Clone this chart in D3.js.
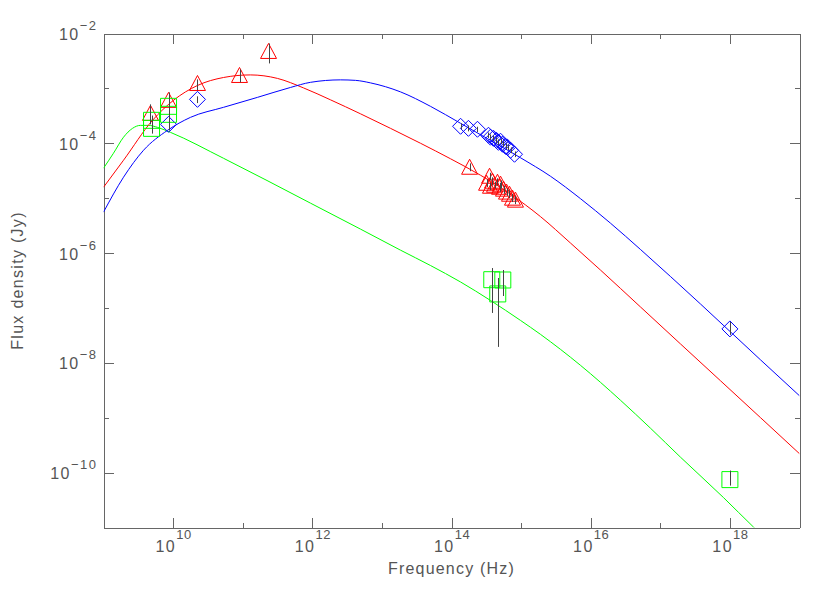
<!DOCTYPE html>
<html><head><meta charset="utf-8">
<script src="https://cdn.jsdelivr.net/npm/d3@7/dist/d3.min.js"></script>
<style>
body{margin:0;background:#fff}
svg{display:block}
text{font-family:"Liberation Sans",Arial,sans-serif;fill:#555}
</style>
</head><body>
<svg id="chart" width="830" height="593"></svg>
<script>
// ---- tick values ----
const xMajorTicks = [1e10, 1e12, 1e14, 1e16, 1e18];
const xMinorTicks = [1e11, 1e13, 1e15, 1e17];
const yMajorTicks = [1e-2, 1e-4, 1e-6, 1e-8, 1e-10];
const yMinorTicks = [1e-3, 1e-5, 1e-7, 1e-9];
const xTitle = "Frequency (Hz)";
const yTitle = "Flux density (Jy)";

// ---- model curves ----
const blueModelFreq = [1e9, 1.94e9, 3.76e9, 8.31e9, 1.78e10, 5.30e10, 1.63e11, 4.86e11, 9.43e11, 2.54e12, 4.18e12, 6.86e12, 1.85e13, 4.99e13, 1.35e14, 3.63e14, 9.80e14, 2.64e15, 7.13e15, 1.92e16, 5.20e16, 1.40e17, 3.78e17, 1.02e18, 2.76e18, 1e19];
const blueModelFlux = [5.56e-6, 2.41e-5, 7.46e-5, 1.72e-4, 2.97e-4, 4.52e-4, 6.86e-4, 1.04e-3, 1.29e-3, 1.43e-3, 1.40e-3, 1.26e-3, 8.64e-4, 4.71e-4, 2.31e-4, 1.13e-4, 5.45e-5, 2.51e-5, 9.8e-6, 3.51e-6, 1.16e-6, 3.74e-7, 1.18e-7, 3.66e-8, 1.13e-8, 2.51e-9];

const redModelFreq = [1e9, 1.94e9, 5.06e9, 1.01e10, 2.24e10, 5.30e10, 1.29e11, 3.16e11, 7.48e11, 1.83e12, 4.93e12, 1.33e13, 3.59e13, 9.68e13, 2.61e14, 7.05e14, 1.90e15, 5.13e15, 1.38e16, 5.20e16, 1.95e17, 7.33e17, 2.76e18, 1e19];
const redModelFlux = [1.58e-5, 4.91e-5, 2.62e-4, 6.05e-4, 1.13e-3, 1.58e-3, 1.76e-3, 1.52e-3, 1.02e-3, 6.18e-4, 3.44e-4, 1.87e-4, 1.0e-4, 5.22e-5, 2.62e-5, 1.18e-5, 4.61e-6, 1.52e-6, 4.91e-7, 1.04e-7, 2.21e-8, 4.71e-9, 1.0e-9, 2.21e-10];

const greenModelFreq = [1e9, 1.39e9, 1.94e9, 2.61e9, 3.40e9, 4.43e9, 5.97e9, 9.18e9, 5.30e10, 9.43e11, 4.93e12, 1.85e13, 4.99e13, 1.35e14, 3.63e14, 9.80e14, 1.90e15, 3.68e15, 7.13e15, 1.38e16, 2.68e16, 7.23e16, 1.95e17, 8.09e17, 2.18e18, 5.33e18];
const greenModelFlux = [3.51e-5, 6.58e-5, 1.29e-4, 1.87e-4, 2.12e-4, 2.12e-4, 1.95e-4, 1.58e-4, 5.33e-5, 8.11e-6, 2.73e-6, 1.13e-6, 5.93e-7, 2.97e-7, 1.37e-7, 5.93e-8, 3.30e-8, 1.76e-8, 9.01e-9, 4.42e-9, 2.08e-9, 6.44e-10, 1.91e-10, 3.51e-11, 1.02e-11, 3.51e-12];

// ---- observed points ----
const redFreq = [4.73e9, 8.6e9, 2.24e10, 9.0e10, 2.35e11, 1.82e14, 3.19e14, 3.52e14, 3.63e14, 3.88e14, 4.15e14, 4.58e14, 4.90e14, 5.06e14, 5.59e14, 6.17e14, 6.81e14, 7.52e14, 8.30e14];
const redFlux = [3.51e-4, 6.05e-4, 1.23e-3, 1.72e-3, 4.71e-3, 3.66e-5, 1.87e-5, 2.51e-5, 1.65e-5, 2.04e-5, 1.72e-5, 1.95e-5, 1.58e-5, 1.80e-5, 1.46e-5, 1.29e-5, 1.18e-5, 1.00e-5, 9.2e-6];
const redLo   = [2.21e-4, 3.98e-4, 9.2e-4, 1.29e-3, 2.85e-3, 3.1e-5, 1.6e-5, 2.1e-5, 1.4e-5, 1.7e-5, 1.5e-5, 1.7e-5, 1.3e-5, 1.5e-5, 1.2e-5, 1.1e-5, 1.0e-5, 8.5e-6, 7.8e-6];
const redHi   = [5.12e-4, 8.46e-4, 1.46e-3, 2.21e-3, 6.58e-3, 4.3e-5, 2.2e-5, 2.9e-5, 1.9e-5, 2.4e-5, 2.0e-5, 2.3e-5, 1.9e-5, 2.1e-5, 1.7e-5, 1.5e-5, 1.4e-5, 1.2e-5, 1.1e-5];

const blueFreq = [8.6e9, 2.24e10, 1.35e14, 1.75e14, 2.36e14, 3.40e14, 3.63e14, 4.01e14, 4.43e14, 4.73e14, 5.06e14, 5.41e14, 5.97e14, 6.38e14, 7.05e14, 8.04e14, 1.0e18];
const blueFlux = [2.21e-4, 6.31e-4, 2.04e-4, 1.87e-4, 1.80e-4, 1.40e-4, 1.29e-4, 1.23e-4, 1.13e-4, 1.04e-4, 1.09e-4, 9.6e-5, 8.8e-5, 8.45e-5, 7.46e-5, 6.31e-5, 4.15e-8];
const blueLo   = [1.7e-4, 5.4e-4, 1.8e-4, 1.65e-4, 1.6e-4, 1.25e-4, 1.15e-4, 1.1e-4, 1.0e-4, 9.3e-5, 9.7e-5, 8.6e-5, 7.8e-5, 7.5e-5, 6.6e-5, 5.6e-5, 3.23e-8];
const blueHi   = [2.9e-4, 7.16e-4, 2.3e-4, 2.1e-4, 2.0e-4, 1.57e-4, 1.45e-4, 1.38e-4, 1.27e-4, 1.17e-4, 1.22e-4, 1.08e-4, 9.9e-5, 9.5e-5, 8.4e-5, 7.1e-5, 5.56e-8];

const greenFreq = [4.9e9, 4.9e9, 8.6e9, 8.6e9, 3.79e14, 4.62e14, 5.46e14, 1.0e18];
const greenFlux = [2.62e-4, 1.87e-4, 4.71e-4, 3.37e-4, 3.27e-7, 1.80e-7, 3.23e-7, 7.46e-11];
const greenLo   = [2.1e-4, 1.5e-4, 3.9e-4, 2.8e-4, 8.11e-8, 1.95e-8, 1.65e-7, 5.8e-11];
const greenHi   = [3.2e-4, 2.3e-4, 5.6e-4, 4.0e-4, 5.33e-7, 3.51e-7, 4.91e-7, 1.09e-10];

// ---- drawing ----
const svg = d3.select("#chart");
const L = 103.5, R = 799.5, T = 33.5, B = 527.5;
const x = d3.scaleLog().domain([1e9, 1e19]).range([L, R]);
const y = d3.scaleLog().domain([1e-11, 1e-2]).range([B, T]);
const axisColor = "#666";

svg.append("defs").append("clipPath").attr("id", "plotclip")
  .append("rect").attr("x", L).attr("y", T).attr("width", R - L).attr("height", B - T);

function styleAxis(g) {
  g.selectAll("path.domain").attr("stroke", axisColor).attr("shape-rendering", "crispEdges");
  g.selectAll(".tick line").attr("stroke", axisColor).attr("shape-rendering", "crispEdges");
}

function addAxis(axisFn, scale, ticks, size, transform) {
  const a = axisFn(scale).tickValues(ticks).tickSizeInner(-size).tickSizeOuter(0).tickFormat("");
  const g = svg.append("g").attr("transform", transform).call(a);
  styleAxis(g);
  return g;
}
// major + minor ticks on all four sides
const gBottom = addAxis(d3.axisBottom, x, xMajorTicks, 10, `translate(0,${B})`);
addAxis(d3.axisBottom, x, xMinorTicks, 5, `translate(0,${B})`);
addAxis(d3.axisTop, x, xMajorTicks, 10, `translate(0,${T})`);
addAxis(d3.axisTop, x, xMinorTicks, 5, `translate(0,${T})`);
const gLeft = addAxis(d3.axisLeft, y, yMajorTicks, 10, `translate(${L},0)`);
addAxis(d3.axisLeft, y, yMinorTicks, 5, `translate(${L},0)`);
addAxis(d3.axisRight, y, yMajorTicks, 10, `translate(${R},0)`);
addAxis(d3.axisRight, y, yMinorTicks, 5, `translate(${R},0)`);

const expOf = v => Math.round(Math.log10(v));
const fmtExp = e => (e < 0 ? "\u2212" : "") + Math.abs(e);

// x tick labels
gBottom.selectAll(".tick").each(function(d) {
  const t = d3.select(this).append("text")
    .attr("x", 0).attr("y", 24.5).attr("text-anchor", "middle").attr("fill", "#555");
  t.append("tspan").attr("font-size", 16).attr("letter-spacing", 1.5).text("10");
  t.append("tspan").attr("font-size", 13).attr("letter-spacing", 0.5).attr("dy", -13).text(fmtExp(expOf(d)));
});
// y tick labels
gLeft.selectAll(".tick").each(function(d) {
  const t = d3.select(this).append("text")
    .attr("x", -6).attr("y", 6).attr("text-anchor", "end").attr("fill", "#555");
  t.append("tspan").attr("font-size", 16).attr("letter-spacing", 1.5).text("10");
  t.append("tspan").attr("font-size", 13).attr("letter-spacing", 1.5).attr("dy", -10).text(fmtExp(expOf(d)));
});

// axis titles
svg.append("text").attr("x", (L + R) / 2).attr("y", 574).attr("text-anchor", "middle")
  .attr("font-size", 16).attr("letter-spacing", 1.2).text(xTitle);
svg.append("text").attr("transform", `translate(23,${(T + B) / 2}) rotate(-90)`).attr("text-anchor", "middle")
  .attr("font-size", 16).attr("letter-spacing", 1.3).text(yTitle);

// model curves
const plot = svg.append("g").attr("clip-path", "url(#plotclip)");
const line = d3.line().x(d => x(d[0])).y(d => y(d[1])).curve(d3.curveMonotoneX);
const models = [
  {f: greenModelFreq, v: greenModelFlux, c: "#00ff00"},
  {f: redModelFreq, v: redModelFlux, c: "#ff0000"},
  {f: blueModelFreq, v: blueModelFlux, c: "#0000ff"}
];
models.forEach(m => {
  plot.append("path").datum(d3.zip(m.f, m.v))
    .attr("fill", "none").attr("stroke", m.c).attr("stroke-width", 1).attr("d", line);
});

// markers
const shapes = {
  triangle: "M0,-8L8,7L-8,7Z",
  diamond: "M0,-8L8,0L0,8L-8,0Z",
  square: "M-8,-8L8,-8L8,8L-8,8Z"
};
const seriesPts = [
  {f: redFreq, v: redFlux, lo: redLo, hi: redHi, c: "#ff0000", s: "triangle"},
  {f: blueFreq, v: blueFlux, lo: blueLo, hi: blueHi, c: "#0000ff", s: "diamond"},
  {f: greenFreq, v: greenFlux, lo: greenLo, hi: greenHi, c: "#00ff00", s: "square"}
];
seriesPts.forEach(sp => {
  const pts = sp.f.map((f, i) => ({f, v: sp.v[i], lo: sp.lo[i], hi: sp.hi[i]}));
  plot.append("g").selectAll("path").data(pts).join("path")
    .attr("d", shapes[sp.s])
    .attr("transform", d => `translate(${x(d.f)},${y(d.v)})`)
    .attr("fill", "none").attr("stroke", sp.c).attr("stroke-width", 1);
});
seriesPts.forEach(sp => {
  const pts = sp.f.map((f, i) => ({f, lo: sp.lo[i], hi: sp.hi[i]}));
  plot.append("g").selectAll("line").data(pts).join("line")
    .attr("x1", d => Math.round(x(d.f)) + 0.5).attr("x2", d => Math.round(x(d.f)) + 0.5)
    .attr("y1", d => y(d.lo)).attr("y2", d => y(d.hi))
    .attr("stroke", "#444").attr("stroke-width", 1);
});
</script>
</body></html>
